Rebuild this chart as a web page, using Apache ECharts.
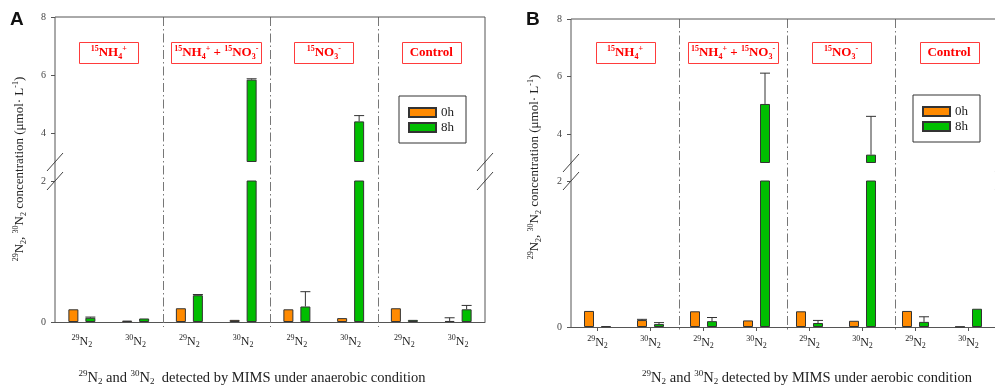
<!DOCTYPE html>
<html><head><meta charset="utf-8">
<script src="https://cdn.jsdelivr.net/npm/echarts@6/dist/echarts.min.js"></script>
<style>html,body{margin:0;padding:0;background:#fff}#c{width:995px;height:386px}</style>
</head><body><div id="c"></div>
<script>
// ---------- data ----------
const categories = ['29N2','30N2','29N2','30N2','29N2','30N2','29N2','30N2'];
const treatments = ['{sup|15}NH{sub|4}{sup|+}', '{sup|15}NH{sub|4}{sup|+} + {sup|15}NO{sub|3}{sup|-}', '{sup|15}NO{sub|3}{sup|-}', 'Control'];
const seriesNames = ['0h', '8h'];
const upperTicks = [4, 6, 8];
const lowerTicks = [0, 2];
// Panel A (anaerobic)
const A_0h     = [0.18, 0.02, 0.195, 0.03, 0.18, 0.055, 0.195, 0.015];
const A_0h_err = [0, 0, 0, 0, 0, 0, 0, 0.045];
const A_8h     = [0.06, 0.05, 0.38, 5.84, 0.22, 4.40, 0.03, 0.18];
const A_8h_err = [0.01, 0, 0.01, 0.03, 0.21, 0.20, 0, 0.055];
// Panel B (aerobic)
const B_0h     = [0.22, 0.095, 0.215, 0.09, 0.215, 0.085, 0.22, 0.005];
const B_0h_err = [0, 0.01, 0, 0, 0, 0, 0, 0];
const B_8h     = [0.01, 0.04, 0.08, 5.05, 0.055, 3.29, 0.07, 0.25];
const B_8h_err = [0, 0.02, 0.05, 1.07, 0.035, 1.33, 0.07, 0];
const panelLetters = ['A', 'B'];
const xTitles = ['{sup|29}N{sub|2} and {sup|30}N{sub|2}  detected by MIMS under anaerobic condition',
                 '{sup|29}N{sub|2} and {sup|30}N{sub|2} detected by MIMS under aerobic condition'];
const yTitle = '{sup|29}N{sub|2}, {sup|30}N{sub|2} concentration (μmol· L{sup|-1})';

// ---------- layout / style ----------
const FONT = '"Liberation Serif", "Times New Roman", serif';
const UP_MIN = 3, UP_MAX = 8, LOW_MIN = 0, LOW_MAX = 2;
const colors = ['#FF8A00', '#00BE00'];
const panels = [
  {left: 55, width: 430, upTop: 17, upH: 145, lowTop: 181, lowH: 141, labMargin: 12, xTicks: false,
   vals: [A_0h, A_8h], errs: [A_0h_err, A_8h_err], legend: [399, 96], letter: [10, 20], xTitle: [252, 378], yTitle: [20, 169]},
  {left: 571, width: 432, upTop: 19, upH: 144, lowTop: 181, lowH: 146, labMargin: 8, xTicks: true,
   vals: [B_0h, B_8h], errs: [B_0h_err, B_8h_err], legend: [913, 95], letter: [526, 20], xTitle: [807, 378], yTitle: [535, 167]}
];
const boxW = [59, 90, 59, 59];
const BAR_W = 10, BAR_OFF = 8.5;

const richSmall = (fs) => ({
  sup: {fontSize: Math.round(fs * 0.65), fontFamily: FONT, color: '#222', padding: [0, 0, Math.round(fs * 0.6), 0]},
  sub: {fontSize: Math.round(fs * 0.65), fontFamily: FONT, color: '#222', padding: [Math.round(fs * 0.5), 0, 0, 0]}
});
const catLabel = (s) => { const m = s.match(/^(\d+)N(\d)$/); return m ? `{sup|${m[1]}}N{sub|${m[2]}}` : s; };

const grids = [], xAxes = [], yAxes = [], series = [], legends = [], graphics = [];

function errRender(offset) {
  return function (params, api) {
    const i = api.value(0), lo = api.value(1), hi = api.value(2);
    const a = api.coord([i, lo]), b = api.coord([i, hi]);
    const cx = a[0] + offset;
    return {type: 'group', children: [
      {type: 'line', shape: {x1: cx, y1: a[1], x2: cx, y2: b[1]}, style: {stroke: '#333', lineWidth: 1}},
      {type: 'line', shape: {x1: cx - 5, y1: b[1], x2: cx + 5, y2: b[1]}, style: {stroke: '#333', lineWidth: 1}}
    ]};
  };
}

panels.forEach((p, pi) => {
  const gUp = grids.length, gLow = gUp + 1;
  grids.push({left: p.left, top: p.upTop, width: p.width, height: p.upH});
  grids.push({left: p.left, top: p.lowTop, width: p.width, height: p.lowH});
  // x axes
  xAxes.push({type: 'category', gridIndex: gUp, data: categories, show: false});
  xAxes.push({type: 'category', gridIndex: gLow, data: categories,
    axisLine: {lineStyle: {color: '#555', width: 1}},
    axisTick: {show: p.xTicks, alignWithLabel: true, interval: 0, length: 4, lineStyle: {color: '#555'}},
    axisLabel: {interval: 0, formatter: catLabel, margin: p.labMargin, color: '#222', fontFamily: FONT, fontSize: 12, rich: richSmall(12)}
  });
  // y axes
  const yCommon = {
    axisLine: {show: false},
    axisTick: {show: true, length: 4, lineStyle: {color: '#555'}},
    splitLine: {show: false},
    axisLabel: {color: '#444', fontFamily: FONT, fontSize: 10, margin: 9}
  };
  yAxes.push(Object.assign({}, yCommon, {type: 'value', gridIndex: gUp, min: UP_MIN, max: UP_MAX, startValue: UP_MIN,
    axisLabel: Object.assign({}, yCommon.axisLabel, {customValues: upperTicks}),
    axisTick: Object.assign({}, yCommon.axisTick, {customValues: upperTicks})}));
  yAxes.push(Object.assign({}, yCommon, {type: 'value', gridIndex: gLow, min: LOW_MIN, max: LOW_MAX,
    axisLabel: Object.assign({}, yCommon.axisLabel, {customValues: lowerTicks}),
    axisTick: Object.assign({}, yCommon.axisTick, {customValues: lowerTicks})}));

  seriesNames.forEach((name, k) => {
    const vals = p.vals[k], errs = p.errs[k];
    const style = {color: colors[k], borderColor: '#333', borderWidth: 1};
    const offset = k === 0 ? -BAR_OFF : BAR_OFF;
    // upper segment bars
    series.push({type: 'bar', name, xAxisIndex: gUp, yAxisIndex: gUp, barWidth: BAR_W, barGap: '70%', clip: true,
      data: vals.map(v => v > UP_MIN ? v : '-'), itemStyle: style, z: 2});
    // lower segment bars
    series.push({type: 'bar', name, xAxisIndex: gLow, yAxisIndex: gLow, barWidth: BAR_W, barGap: '70%', clip: true,
      data: vals, itemStyle: style, z: 2});
    // error bars
    const upErr = [], lowErr = [];
    vals.forEach((v, i) => {
      if (!errs[i]) return;
      if (v > UP_MIN) upErr.push([i, v, v + errs[i]]);
      else if (v < LOW_MAX) lowErr.push([i, v, v + errs[i]]);
    });
    series.push({type: 'custom', name, xAxisIndex: gUp, yAxisIndex: gUp, renderItem: errRender(offset), data: upErr, encode: {x: 0, y: [1, 2]}, z: 5, silent: true});
    series.push({type: 'custom', name, xAxisIndex: gLow, yAxisIndex: gLow, renderItem: errRender(offset), data: lowErr, encode: {x: 0, y: [1, 2]}, z: 5, silent: true});
  });

  legends.push({data: seriesNames, left: p.legend[0], top: p.legend[1], orient: 'vertical', icon: 'rect',
    itemWidth: 27, itemHeight: 9, itemGap: 0, itemTextGap: 7, padding: [9, 12, 8, 9],
    borderColor: '#333', borderWidth: 1, backgroundColor: '#fff',
    textStyle: {fontFamily: FONT, fontSize: 13, color: '#222', lineHeight: 15}});

  // ---- decorations (frame, separators, breaks, labels) ----
  const L = p.left, R = p.left + p.width, T = p.upTop, B = p.lowTop + p.lowH;
  const upB = p.upTop + p.upH, lowT = p.lowTop;
  const ls = {stroke: '#555', lineWidth: 1};
  graphics.push({type: 'line', shape: {x1: L, y1: T, x2: L, y2: B}, style: ls, z: 10});
  graphics.push({type: 'line', shape: {x1: L, y1: T, x2: R, y2: T}, style: ls, z: 10});
  graphics.push({type: 'line', shape: {x1: R, y1: T, x2: R, y2: B}, style: ls, z: 10});
  for (let k = 1; k < 4; k++) {
    const x = Math.round(L + k * p.width / 4) + 0.5;
    graphics.push({type: 'line', shape: {x1: x, y1: T, x2: x, y2: B + 5},
      style: {stroke: '#777', lineWidth: 1, lineDash: [9, 3, 1.5, 3]}, z: 9});
  }
  [L, R].forEach(x => [upB, lowT].forEach(y => {
    graphics.push({type: 'line', shape: {x1: x - 8, y1: y + 9, x2: x + 8, y2: y - 9}, style: {stroke: '#444', lineWidth: 1}, z: 11});
  }));
  // treatment boxes
  treatments.forEach((t, k) => {
    const cx = L + (k + 0.5) * p.width / 4;
    graphics.push({type: 'rect', shape: {x: Math.round(cx - boxW[k] / 2) + 0.5, y: 42.5, width: boxW[k], height: 21},
      style: {fill: '#fff', stroke: '#FF3B3B', lineWidth: 1}, z: 12});
    graphics.push({type: 'text', x: cx, y: 53, z: 13, style: {text: t, fill: '#FF0000', fontFamily: FONT, fontSize: 13, fontWeight: 'bold',
      align: 'center', verticalAlign: 'middle', textAlign: 'center', textVerticalAlign: 'middle',
      rich: {sup: {fontSize: 8, fontWeight: 'bold', fontFamily: FONT, fill: '#FF0000', padding: [0, 0, 8, 0]},
             sub: {fontSize: 8, fontWeight: 'bold', fontFamily: FONT, fill: '#FF0000', padding: [7, 0, 0, 0]}}}});
  });
  // panel letter
  graphics.push({type: 'text', x: p.letter[0], y: p.letter[1], style: {text: panelLetters[pi], fill: '#111',
    font: 'bold 19px "Liberation Sans", Arial, sans-serif', verticalAlign: 'middle', textVerticalAlign: 'middle'}, z: 13});
  // axis titles
  graphics.push({type: 'text', x: p.xTitle[0], y: p.xTitle[1], z: 13, style: {text: xTitles[pi], fill: '#222', fontFamily: FONT, fontSize: 14.5,
    align: 'center', verticalAlign: 'middle', textAlign: 'center', textVerticalAlign: 'middle',
    rich: {sup: {fontSize: 9, fontFamily: FONT, fill: '#222', padding: [0, 0, 8, 0]}, sub: {fontSize: 9, fontFamily: FONT, fill: '#222', padding: [7, 0, 0, 0]}}}});
  graphics.push({type: 'text', x: p.yTitle[0], y: p.yTitle[1], rotation: Math.PI / 2, z: 13, style: {text: yTitle, fill: '#222', fontFamily: FONT, fontSize: 13,
    align: 'center', verticalAlign: 'middle', textAlign: 'center', textVerticalAlign: 'middle',
    rich: {sup: {fontSize: 8, fontFamily: FONT, fill: '#222', padding: [0, 0, 8, 0]}, sub: {fontSize: 8, fontFamily: FONT, fill: '#222', padding: [7, 0, 0, 0]}}}});
});

const chart = echarts.init(document.getElementById('c'), null, {renderer: 'canvas'});
chart.setOption({
  animation: false,
  backgroundColor: '#fff',
  grid: grids, xAxis: xAxes, yAxis: yAxes, series, legend: legends,
  graphic: {elements: graphics}
});
</script></body></html>
